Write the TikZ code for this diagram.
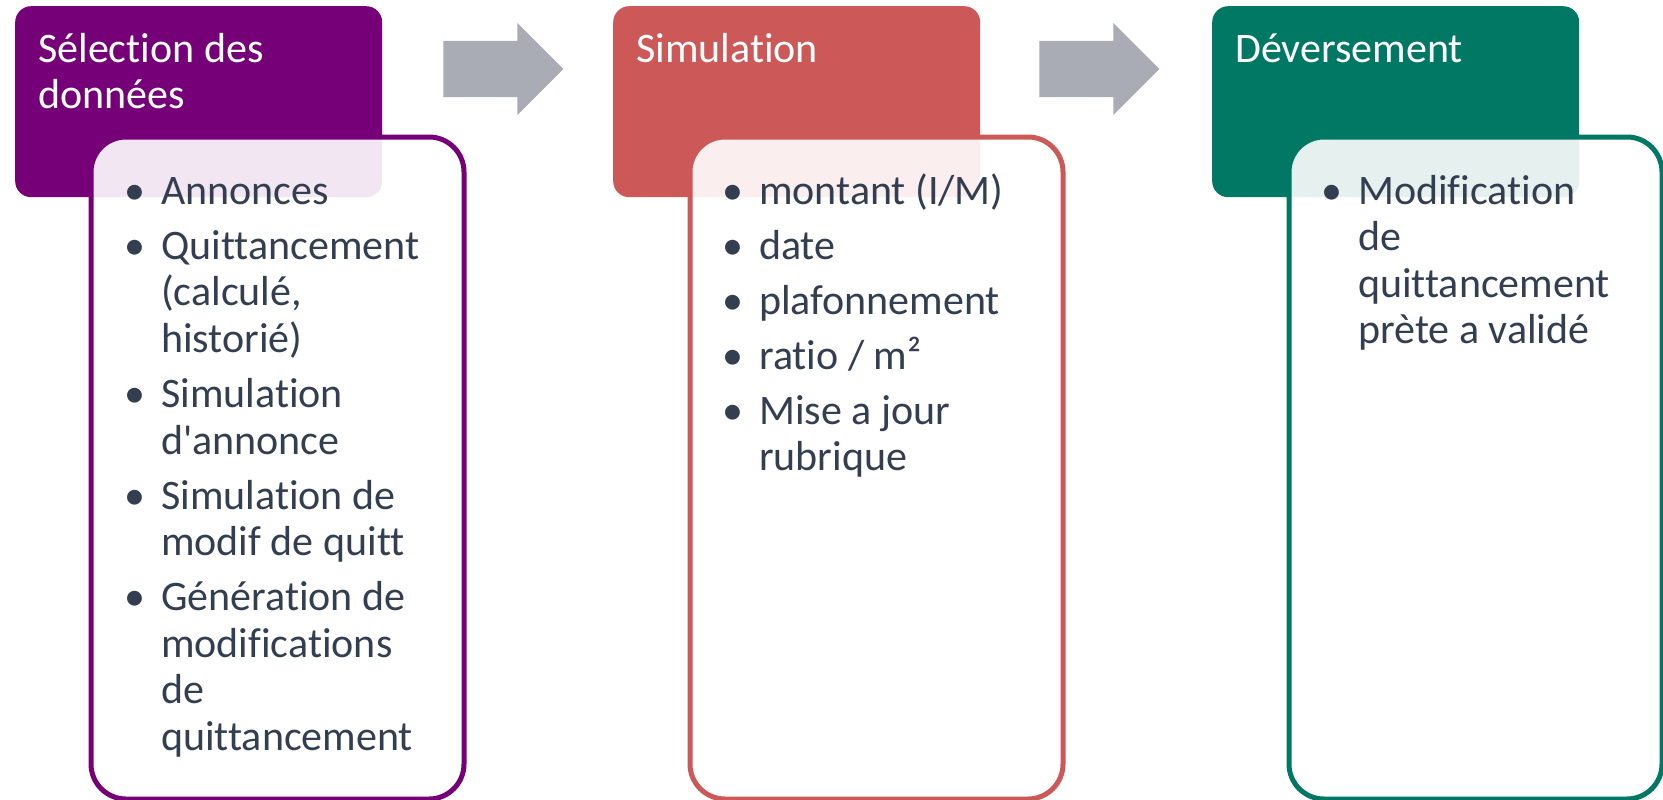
\documentclass[tikz,border=0pt]{standalone}
\usepackage{fontspec}
\setmainfont{Carlito}[Ligatures={TeX,NoCommon}]
\usetikzlibrary{calc,positioning}

\definecolor{selPurple}{RGB}{117,0,120}
\definecolor{simRed}{RGB}{205,88,88}
\definecolor{devGreen}{RGB}{0,120,100}
\definecolor{arrowGray}{RGB}{169,171,181}
\definecolor{listText}{RGB}{51,63,80}

\newcommand{\bul}{\llap{\textbullet\hspace{16pt}}}
\newcommand{\itemgap}{8.5pt}

\tikzset{
  stagehead/.style={rectangle, rounded corners=16pt, fill=#1, inner sep=0,
    minimum width=367, minimum height=191, anchor=north west},
  stagebody/.style={rectangle, rounded corners=35pt, draw=#1, line width=5pt,
    fill=white, fill opacity=0.9, inner sep=0,
    minimum width=373, minimum height=662, anchor=north west},
  headtext/.style={anchor=base west, inner sep=0, text=white,
    font=\fontsize{42}{45.6}\selectfont},
  listtext/.style={anchor=base west, inner sep=0, text=listText,
    font=\fontsize{42}{46.6}\selectfont},
  blockarrow/.pic={
    \fill[arrowGray] (0,-28) -- (74,-28) -- (74,-46) -- (120,0)
      -- (74,46) -- (74,28) -- (0,28) -- cycle;
  }
}

\begin{document}
\begin{tikzpicture}[x=1pt,y=-1pt]
\useasboundingbox (0,0) rectangle (1663,800);

% header boxes
\node[stagehead=selPurple] (selHead) at (15,6) {};
\node[stagehead=simRed] (simHead) at (613,6) {};
\node[stagehead=devGreen] (devHead) at (1212,6) {};

\node[headtext] (selTitle) at ($(selHead.north west)+(23,57)$) {%
\begin{tabular}[t]{@{}l@{}}S\'election des\\donn\'ees\end{tabular}};
\node[headtext] (simTitle) at ($(simHead.north west)+(23,57)$) {Simulation};
\node[headtext] (devTitle) at ($(devHead.north west)+(23,57)$) {D\'eversement};

% arrows between stages
\coordinate (selOut) at ($(selHead.north east)+(61,63)$);
\coordinate (simOut) at ($(simHead.north east)+(59,63)$);
\pic at (selOut) {blockarrow};
\pic at (simOut) {blockarrow};

% body boxes, on top of the headers
\node[stagebody=selPurple] (selBody) at ($(selHead.north west)+(73.5,128.5)$) {};
\node[stagebody=simRed] (simBody) at ($(simHead.north west)+(74.5,128.5)$) {};
\node[stagebody=devGreen] (devBody) at ($(devHead.north west)+(74.5,128.5)$) {};

\node[listtext] (selList) at ($(selHead.north west)+(146,198)$) {%
\begin{tabular}[t]{@{}l@{}}
\bul Annonces\\[\itemgap]
\bul Quittancement\\
(calcul\'e,\\
histori\'e)\\[\itemgap]
\bul Simulation\\
d\textquotesingle annonce\\[\itemgap]
\bul Simulation de\\
modif de quitt\\[\itemgap]
\bul G\'en\'eration de\\
modifications\\
de\\
quittancement
\end{tabular}};

\node[listtext] (simList) at ($(simHead.north west)+(146,198)$) {%
\begin{tabular}[t]{@{}l@{}}
\bul montant (I/M)\\[\itemgap]
\bul date\\[\itemgap]
\bul plafonnement\\[\itemgap]
\bul ratio / m²\\[\itemgap]
\bul Mise a jour\\
rubrique
\end{tabular}};

\node[listtext] (devList) at ($(devHead.north west)+(146,198)$) {%
\begin{tabular}[t]{@{}l@{}}
\bul Modification\\
de\\
quittancement\\
pr\`ete a valid\'e
\end{tabular}};

\end{tikzpicture}
\end{document}
